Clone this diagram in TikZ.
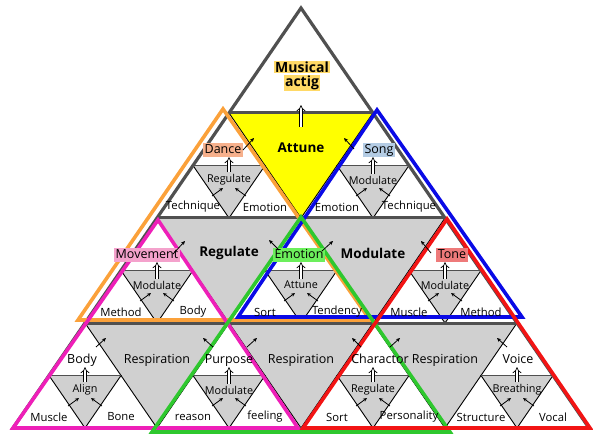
\documentclass[tikz,border=0pt]{standalone}
\usepackage{fontspec}
\setmainfont{Open Sans}
\usetikzlibrary{calc,arrows.meta,backgrounds}

\definecolor{gridgray}{HTML}{505050}
\definecolor{cellgray}{HTML}{D0D0D0}
\definecolor{attyellow}{HTML}{FFFF00}
\definecolor{lnorange}{HTML}{FBA13A}
\definecolor{lnblue}{HTML}{0A0AE6}
\definecolor{lngreen}{HTML}{2EC82E}
\definecolor{lnpink}{HTML}{EE1FB8}
\definecolor{lnred}{HTML}{F21414}
\definecolor{hlgold}{HTML}{FFD966}
\definecolor{hldance}{HTML}{F6B08C}
\definecolor{hlsong}{HTML}{B4CCE4}
\definecolor{hlmove}{HTML}{F4A2CC}
\definecolor{hlemo}{HTML}{6CEF5C}
\definecolor{hltone}{HTML}{EE7A7A}

\tikzset{
  thin edge/.style={draw=black, line width=0.9pt},
  row line/.style={draw=gridgray, line width=3pt},
  sub top/.style={draw=gridgray, line width=1.6pt},
  grouptri/.style={line width=3.6pt},
  bigword/.style={font=\fontsize{13.5}{15}\selectfont\bfseries, inner sep=1pt},
  respword/.style={font=\fontsize{12.5}{15}\selectfont, inner sep=1pt},
  topword/.style={font=\fontsize{12.5}{14}\selectfont, inner xsep=1.5pt, inner ysep=1pt, text height=9.5pt, text depth=2.5pt},
  midword/.style={font=\fontsize{10.8}{12}\selectfont, inner sep=1pt},
  cornerword/.style={font=\fontsize{11.3}{13}\selectfont, inner sep=1pt},
  smallarrow/.style={-{Stealth[length=4pt,width=3.6pt]}, line width=0.8pt},
  dbl/.style={double, double distance=2.4pt, line width=0.7pt, -{Implies}},
}

\newcommand{\subtri}[9]{%
  \coordinate (#3) at (#1,#2);
  \begin{pgfonlayer}{background}
    \filldraw[fill=cellgray, thin edge] ($(#3)+(-36,52.5)$) -- ($(#3)+(0,105)$) -- ($(#3)+(36,52.5)$) -- cycle;
    \draw[sub top] ($(#3)+(-36,52.5)$) -- ($(#3)+(36,52.5)$);
  \end{pgfonlayer}
  \node[topword, fill=#6] (#3t) at ($(#3)+(#5,37)$) {#4};
  \node[midword] (#3m) at ($(#3)+(0,67)$) {#7};
  \node[cornerword] (#3l) at ($(#3)+(-36,94)$) {#8};
  \node[cornerword] (#3r) at ($(#3)+(36,94)$) {#9};
  \draw[dbl, shorten <=1pt] (#3m.north) -- (#3m |- #3t.south);
  \draw[smallarrow] ($(#3)+(-17,83)$) -- ++(11,-8);
  \draw[smallarrow] ($(#3)+(17,83)$) -- ++(-11,-8);
}

\begin{document}
\begin{tikzpicture}[x=1pt, y=-1pt]
  \useasboundingbox (0,0) rectangle (593,435);

  \begin{pgfonlayer}{background}
    \filldraw[fill=attyellow, thin edge] (229,113) -- (301,218) -- (373,113) -- cycle;
    \filldraw[fill=cellgray, thin edge] (157,218) -- (229,323) -- (301,218) -- cycle;
    \filldraw[fill=cellgray, thin edge] (301,218) -- (373,323) -- (445,218) -- cycle;
    \filldraw[fill=cellgray, thin edge] (85,323) -- (157,428) -- (229,323) -- cycle;
    \filldraw[fill=cellgray, thin edge] (229,323) -- (301,428) -- (373,323) -- cycle;
    \filldraw[fill=cellgray, thin edge] (373,323) -- (445,428) -- (517,323) -- cycle;
  \end{pgfonlayer}

  \draw[row line] (229,113) -- (373,113);
  \draw[row line] (157,218) -- (445,218);
  \draw[row line] (85,323) -- (517,323);
  \draw[draw=gridgray, line width=3.2pt] (301,8) -- (13,428) -- (589,428) -- cycle;

  \draw[grouptri, lnorange] (223,109) -- (78,320) -- (370,320) -- cycle;
  \draw[grouptri, lnblue] (377,110) -- (238,317) -- (522,317) -- cycle;
  \draw[grouptri, lnpink] (158,220) -- (13,428) -- (298,428) -- cycle;
  \draw[grouptri, lngreen] (301,217) -- (152,432) -- (450,432) -- cycle;
  \draw[grouptri, lnred] (447,219) -- (303,428) -- (590,428) -- cycle;

  \node[bigword, font=\fontsize{14}{16}\selectfont\bfseries, fill=hlgold] (mus1) at (302,67) {Musical};
  \node[bigword, font=\fontsize{14}{16}\selectfont\bfseries, fill=hlgold] (mus2) at (302,83) {actig};
  \node[bigword] (attune) at (301,148) {Attune};
  \node[bigword] (regul) at (229,253) {Regulate};
  \node[bigword] (modul) at (373,253) {Modulate};
  \node[respword] (respL) at (157,360) {Respiration};
  \node[respword] (respM) at (301,360) {Respiration};
  \node[respword] (respR) at (445,360) {Respiration};
  \draw[dbl, shorten <=15pt, shorten >=14pt] (attune.north) -- (attune |- mus2.south);

  \subtri{229}{113}{dnc}{Dance}{-6}{hldance}{Regulate}{Technique}{Emotion}
  \subtri{373}{113}{sng}{Song}{6}{hlsong}{Modulate}{Emotion}{Technique}
  \subtri{157}{218}{mov}{Movement}{-10}{hlmove}{Modulate}{Method}{Body}
  \subtri{301}{218}{emo}{Emotion}{-2}{hlemo}{Attune}{Sort}{Tendency}
  \subtri{445}{218}{ton}{Tone}{7}{hltone}{Modulate}{Muscle}{Method}
  \subtri{85}{323}{bdy}{Body}{-3}{none}{Align}{Muscle}{Bone}
  \subtri{229}{323}{pur}{Purpose}{0}{none}{Modulate}{reason}{feeling}
  \subtri{373}{323}{chr}{Charactor}{7}{none}{Regulate}{Sort}{Personality}
  \subtri{517}{323}{voc}{Voice}{1}{none}{Breathing}{Structure}{Vocal}

  \draw[smallarrow] ($(dnc)+(14,37)$) -- ++(11,-12);
  \draw[smallarrow] ($(sng)+(-19,36)$) -- ++(-10,-11);
  \draw[smallarrow] ($(mov)+(16,36)$) -- ++(12,-13);
  \draw[smallarrow] ($(emo)+(21,33)$) -- ++(11,-10);
  \draw[smallarrow] ($(emo)+(-22,32)$) -- ++(-10,-10);
  \draw[smallarrow] ($(ton)+(-14,35)$) -- ++(-10,-12);
  \draw[smallarrow] ($(bdy)+(11,24)$) -- ++(10,-9);
  \draw[smallarrow] ($(pur)+(-16,24)$) -- ++(-10,-9);
  \draw[smallarrow] ($(pur)+(18,24)$) -- ++(10,-9);
  \draw[smallarrow] ($(chr)+(-12,24)$) -- ++(-9,-9);
  \draw[smallarrow] ($(chr)+(17,24)$) -- ++(10,-9);
  \draw[smallarrow] ($(voc)+(-10,24)$) -- ++(-10,-9);
\end{tikzpicture}
\end{document}
